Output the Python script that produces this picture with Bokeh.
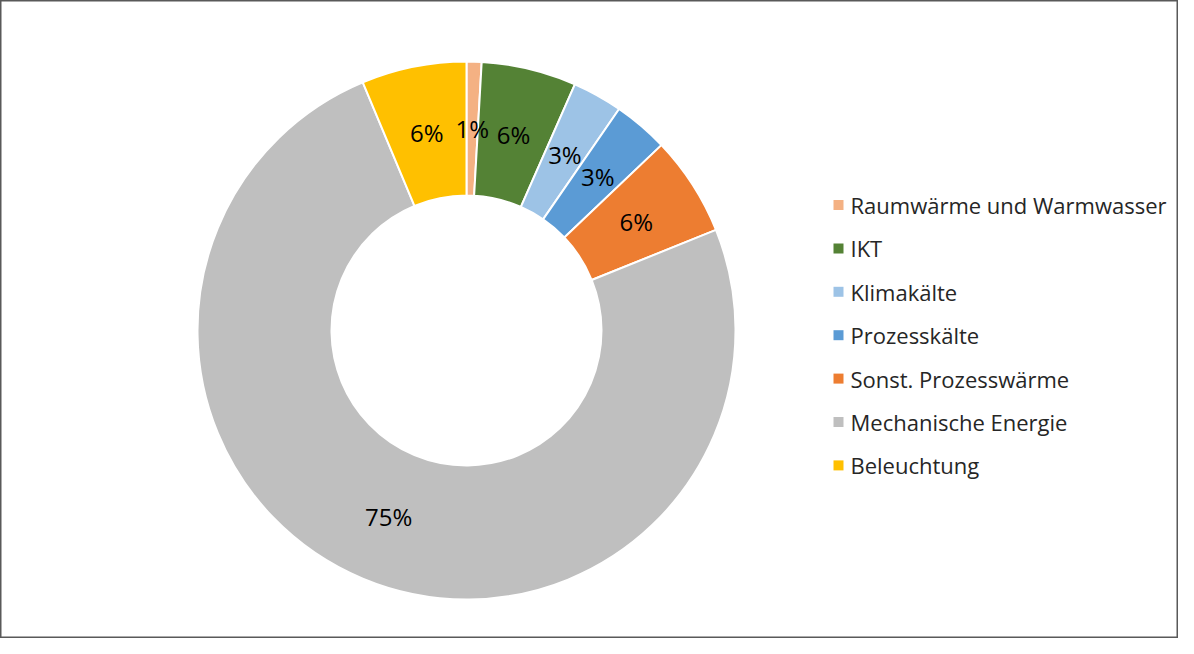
import math
from bokeh.plotting import figure
from bokeh.models import Range1d, ColumnDataSource
from bokeh.core.properties import value
from bokeh.embed import file_html
from bokeh.resources import INLINE

categories = ["Raumwärme und Warmwasser", "IKT", "Klimakälte", "Prozesskälte",
              "Sonst. Prozesswärme", "Mechanische Energie", "Beleuchtung"]
shares = [0.9, 5.7, 3.0, 3.3, 6.0, 74.8, 6.3]
colors = ["#F4B183", "#548235", "#9DC3E6", "#5B9BD5", "#ED7D31", "#BFBFBF", "#FFC000"]

W, H = 1178, 638
CX, CY = 466, 330          # donut centre in figure pixels (from left / top)
R_OUT, R_IN = 269, 135
FONT = "Open Sans"

p = figure(width=W, height=H, output_backend="svg", toolbar_location=None,
           x_range=Range1d(-CX, W - CX), y_range=Range1d(-(H - CY), CY),
           min_border=0)
p.axis.visible = False
p.grid.visible = False
p.outline_line_color = "#595959"
p.outline_line_width = 2
p.background_fill_color = "white"
p.border_fill_color = "white"

total = sum(shares)
starts, ends, lx, ly, labels = [], [], [], [], []
cum = 0.0
for s in shares:
    a0 = math.pi / 2 - 2 * math.pi * cum / total
    cum += s
    a1 = math.pi / 2 - 2 * math.pi * cum / total
    starts.append(a0)
    ends.append(a1)
    mid = (a0 + a1) / 2
    rm = (R_OUT + R_IN) / 2
    lx.append(rm * math.cos(mid))
    ly.append(rm * math.sin(mid))
    labels.append(f"{round(s / total * 100)}%")

src = ColumnDataSource(dict(start=starts, end=ends, color=colors,
                            lx=lx, ly=ly, label=labels))
p.annular_wedge(x=0, y=0, inner_radius=R_IN, outer_radius=R_OUT,
                start_angle="start", end_angle="end", direction="clock",
                fill_color="color", line_color="white", line_width=2, source=src)
p.text(x="lx", y="ly", text="label", source=src, text_align="center",
       text_baseline="middle", text_font=value(FONT), text_font_size="24px",
       text_color="#000000")

# legend
leg_y0 = CY - 204.5
leg_step = 43.4
leg_ys = [leg_y0 - i * leg_step for i in range(len(categories))]
lsrc = ColumnDataSource(dict(y=leg_ys, name=categories, color=colors))
p.rect(x=846 - 8 - CX, y="y", width=10, height=10, fill_color="color",
       line_color=None, source=lsrc)
p.text(x=858 - 8 - CX, y="y", text="name", source=lsrc, text_align="left",
       text_baseline="middle", text_font=value(FONT), text_font_size="22px",
       text_color="#262626")

open("out.html", "w").write(file_html(p, INLINE))
